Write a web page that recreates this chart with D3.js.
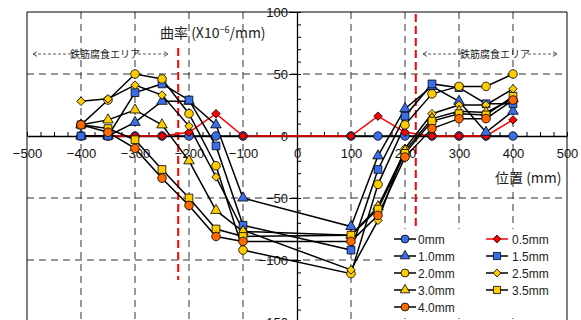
<!DOCTYPE html>
<html>
<head>
<meta charset="utf-8">
<script src="https://cdn.jsdelivr.net/npm/d3@7"></script>
<style>
  body { margin: 0; background: #fff; }
  svg { display: block; }
</style>
</head>
<body>
<svg id="chart"></svg>
<script>
// DATA
const positions = [-400, -350, -300, -250, -200, -150, -100, 100, 150, 200, 250, 300, 350, 400];
const seriesNames = ["0mm", "0.5mm", "1.0mm", "1.5mm", "2.0mm", "2.5mm", "3.0mm", "3.5mm", "4.0mm"];
const curv0mm  = [0, 0, 0, 0, 0, 0, 0, 0, 0, 0, 0, 0, 0, 0];
const curv05mm = [0, 0, 0, 0, 3, 18, 0, 0, 16, 3, 0, 0, 0, 13];
const curv10mm = [0, 0, 11, 28, 28, 9, -50, -73, -16, 22, 40, 28, 3, 20];
const curv15mm = [0, 0, 35, 42, 29, -8, -72, -92, -27, 16, 42, 39, 26, 26];
const curv20mm = [9, 29, 50, 46, 18, -24, -92, -111, -39, 9, 34, 40, 40, 50];
const curv25mm = [28, 30, 41, 33, 8, -33, -76, -108, -68, -10, 18, 25, 25, 38];
const curv30mm = [9, 13, 21, 9, -20, -60, -77, -80, -57, -12, 14, 20, 19, 30];
const curv35mm = [9, 6, -3, -27, -50, -75, -81, -80, -59, -14, 12, 18, 17, 32];
const curv40mm = [9, 3, -10, -34, -56, -81, -85, -85, -64, -17, 6, 14, 14, 29];
const xTicks = [-500, -400, -300, -200, -100, 0, 100, 200, 300, 400, 500];
const yTicks = [100, 50, 0, -50, -100, -150];
const corrosionEdges = [-220, 220];
const areaLabel = "鉄筋腐食エリア";

const allValues = [curv0mm, curv05mm, curv10mm, curv15mm, curv20mm, curv25mm, curv30mm, curv35mm, curv40mm];

const width = 581, height = 320;
const svg = d3.select("#chart").attr("width", width).attr("height", height);

const x = d3.scaleLinear().domain([-500, 500]).range([27, 567]);
const y = d3.scaleLinear().domain([-150, 100]).range([322, 12]);

// marker styles per series
const styles = [
  { shape: d3.symbolCircle, size: 58, fill: "#3a6ee8", line: "#000" },
  { shape: "diamond", size: 36, fill: "#ff0000", line: "#ff0000" },
  { shape: d3.symbolTriangle, size: 48, fill: "#3a6ee8", line: "#000" },
  { shape: d3.symbolSquare, size: 60, fill: "#3a6ee8", line: "#000" },
  { shape: d3.symbolCircle, size: 58, fill: "#ffcc00", line: "#000" },
  { shape: "diamond", size: 36, fill: "#ffcc00", line: "#000" },
  { shape: d3.symbolTriangle, size: 48, fill: "#ffcc00", line: "#000" },
  { shape: d3.symbolSquare, size: 60, fill: "#ffcc00", line: "#000" },
  { shape: d3.symbolCircle, size: 58, fill: "#ff6a00", line: "#000" }
];

function marker(g, st, cx, cy, scale = 1) {
  const isDiamond = st.shape === "diamond";
  const sym = d3.symbol().type(isDiamond ? d3.symbolSquare : st.shape).size(st.size * scale);
  g.append("path")
    .attr("d", sym())
    .attr("transform", `translate(${cx},${cy})` + (isDiamond ? " rotate(45)" : ""))
    .attr("fill", st.fill)
    .attr("stroke", "#000")
    .attr("stroke-width", 0.8);
}

// GRID
const grid = svg.append("g");
[-400, -300, -200, -100, 100, 200, 300, 400].forEach(v => {
  grid.append("line")
    .attr("x1", x(v)).attr("x2", x(v))
    .attr("y1", y(100)).attr("y2", y(-150))
    .attr("stroke", "#555").attr("stroke-width", 1.2)
    .attr("stroke-dasharray", "7,5");
});
[50, -50, -100].forEach(v => {
  grid.append("line")
    .attr("x1", x(-500)).attr("x2", x(500))
    .attr("y1", y(v)).attr("y2", y(v))
    .attr("stroke", "#333").attr("stroke-width", 1.2)
    .attr("stroke-dasharray", "7,5");
});

// plot border
svg.append("path")
  .attr("d", `M${x(-500)},${y(-150)} V${y(100)} H${x(500)} V${y(-150)}`)
  .attr("fill", "none").attr("stroke", "#000").attr("stroke-width", 1);

// red dashed corrosion edges
svg.append("line")
  .attr("x1", x(corrosionEdges[0])).attr("x2", x(corrosionEdges[0]))
  .attr("y1", 48).attr("y2", 280)
  .attr("stroke", "#ff0000").attr("stroke-width", 2).attr("stroke-dasharray", "8,4");
svg.append("line")
  .attr("x1", x(corrosionEdges[1])).attr("x2", x(corrosionEdges[1]))
  .attr("y1", 14).attr("y2", 226)
  .attr("stroke", "#ff0000").attr("stroke-width", 2).attr("stroke-dasharray", "8,4");

// AXES
const tickFont = "'Liberation Sans', Arial, sans-serif";
const xAxisG = svg.append("g").attr("transform", `translate(0,${y(0)})`);
xAxisG.call(d3.axisBottom(x).tickValues(xTicks).tickSize(0).tickPadding(13)
  .tickFormat(d => d < 0 ? "\u2212" + Math.abs(d) : d));
xAxisG.select(".domain").attr("stroke", "#000").attr("stroke-width", 1.3);
xAxisG.selectAll("text").attr("font-family", tickFont).attr("font-size", 13).attr("fill", "#111");
svg.append("g").attr("transform", `translate(0,${y(0)})`)
  .call(d3.axisTop(x).tickValues(d3.range(-500, 501, 25)).tickSize(4).tickFormat(""))
  .call(g => g.select(".domain").remove());

const yAxisG = svg.append("g").attr("transform", `translate(${x(0)},0)`);
yAxisG.call(d3.axisLeft(y).tickValues(yTicks).tickSize(0).tickPadding(9)
  .tickFormat(d => d < 0 ? "\u2212" + Math.abs(d) : d));
yAxisG.select(".domain").attr("stroke", "#000").attr("stroke-width", 1.3);
yAxisG.selectAll("text").attr("font-family", tickFont).attr("font-size", 13).attr("fill", "#111");
svg.append("g").attr("transform", `translate(${x(0)},0)`)
  .call(d3.axisRight(y).tickValues(d3.range(-150, 101, 10)).tickSize(4).tickFormat(""))
  .call(g => g.select(".domain").remove());
svg.append("g").attr("transform", `translate(${x(0) + 4},0)`)
  .call(d3.axisLeft(y).tickValues(yTicks).tickSize(12).tickFormat(""))
  .call(g => g.select(".domain").remove());

// SERIES
const lineGen = d3.line().x(d => x(d[0])).y(d => y(d[1]));
const seriesG = svg.append("g");
allValues.forEach((vals, i) => {
  const pts = positions.map((p, j) => [p, vals[j]]);
  seriesG.append("path")
    .datum(pts)
    .attr("d", lineGen)
    .attr("fill", "none")
    .attr("stroke", styles[i].line)
    .attr("stroke-width", 1.5);
});
allValues.forEach((vals, i) => {
  positions.forEach((p, j) => marker(seriesG, styles[i], x(p), y(vals[j])));
});

// TITLES
const jpFont = "'Noto Sans CJK JP', 'Noto Sans', sans-serif";
const ttl = svg.append("text")
  .attr("x", 160).attr("y", 38)
  .attr("font-family", jpFont).attr("font-size", 14).attr("fill", "#222");
ttl.append("tspan").text("曲率 (X10");
ttl.append("tspan").attr("dy", -5).attr("font-size", 9).text("\u22126");
ttl.append("tspan").attr("dy", 5).text("/mm)");

svg.append("text")
  .attr("x", 495).attr("y", 183)
  .attr("font-family", jpFont).attr("font-size", 14).attr("fill", "#222")
  .text("位置 (mm)");

// corrosion area annotations
function areaArrow(x1, x2, cx) {
  const g = svg.append("g");
  const yy = 54, half = 33;
  g.append("line").attr("x1", x1).attr("x2", cx - half).attr("y1", yy).attr("y2", yy)
    .attr("stroke", "#333").attr("stroke-width", 0.8).attr("stroke-dasharray", "3,2");
  g.append("line").attr("x1", cx + half).attr("x2", x2).attr("y1", yy).attr("y2", yy)
    .attr("stroke", "#333").attr("stroke-width", 0.8).attr("stroke-dasharray", "3,2");
  g.append("path").attr("d", `M${x1 + 4},${yy - 2.5} L${x1},${yy} L${x1 + 4},${yy + 2.5}`)
    .attr("fill", "none").attr("stroke", "#333").attr("stroke-width", 0.8);
  g.append("path").attr("d", `M${x2 - 4},${yy - 2.5} L${x2},${yy} L${x2 - 4},${yy + 2.5}`)
    .attr("fill", "none").attr("stroke", "#333").attr("stroke-width", 0.8);
  g.append("text").attr("x", cx).attr("y", yy + 3.5).attr("text-anchor", "middle")
    .attr("font-family", jpFont).attr("font-size", 10).attr("fill", "#222")
    .text(areaLabel);
}
areaArrow(33, 168, 105);
areaArrow(423, 557, 495);

// LEGEND
const leg = svg.append("g");
leg.append("rect").attr("x", 386).attr("y", 229).attr("width", 178).attr("height", 89).attr("fill", "#fff");
seriesNames.forEach((name, i) => {
  const col = i % 2, row = Math.floor(i / 2);
  const lx = col === 0 ? 394 : 486;
  const ly = 239 + row * 17;
  leg.append("line").attr("x1", lx).attr("x2", lx + 22).attr("y1", ly).attr("y2", ly)
    .attr("stroke", styles[i].line).attr("stroke-width", 1.5);
  marker(leg, styles[i], lx + 11, ly, 0.85);
  leg.append("text").attr("x", lx + (col === 0 ? 24 : 26)).attr("y", ly + 4.5)
    .attr("font-family", tickFont).attr("font-size", 12).attr("fill", "#222")
    .text(name);
});
</script>
</body>
</html>
